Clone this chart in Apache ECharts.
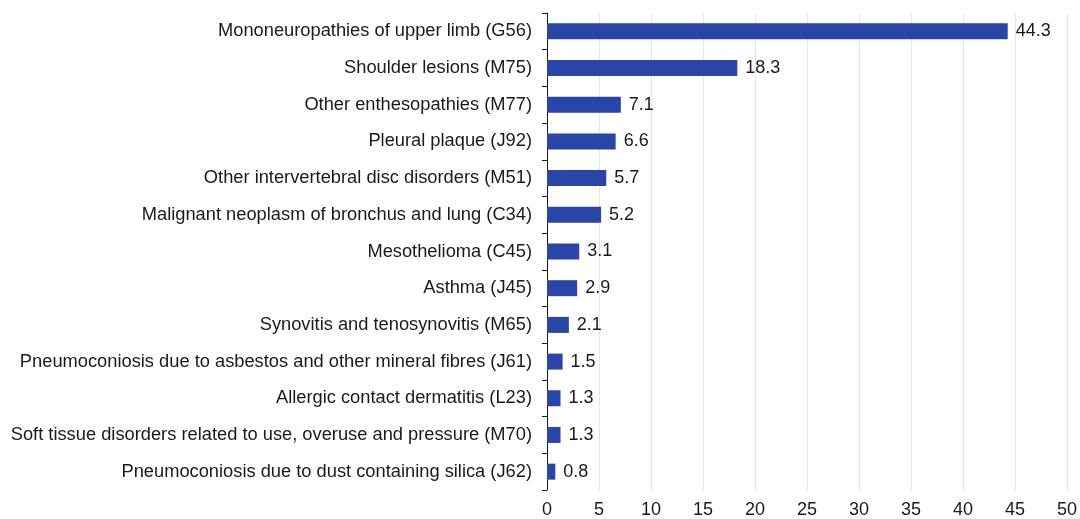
<!DOCTYPE html>
<html><head><meta charset="utf-8">
<script src="https://cdn.jsdelivr.net/npm/echarts@6/dist/echarts.min.js"></script>
<style>html,body{margin:0;padding:0;background:#fff}#c{width:1080px;height:519px}</style>
</head><body><div id="c"></div>
<script>
const categories = [
  "Mononeuropathies of upper limb (G56)",
  "Shoulder lesions (M75)",
  "Other enthesopathies (M77)",
  "Pleural plaque (J92)",
  "Other intervertebral disc disorders (M51)",
  "Malignant neoplasm of bronchus and lung (C34)",
  "Mesothelioma (C45)",
  "Asthma (J45)",
  "Synovitis and tenosynovitis (M65)",
  "Pneumoconiosis due to asbestos and other mineral fibres (J61)",
  "Allergic contact dermatitis (L23)",
  "Soft tissue disorders related to use, overuse and pressure (M70)",
  "Pneumoconiosis due to dust containing silica (J62)"
];
const values = [44.3, 18.3, 7.1, 6.6, 5.7, 5.2, 3.1, 2.9, 2.1, 1.5, 1.3, 1.3, 0.8];
const xTicks = [0, 5, 10, 15, 20, 25, 30, 35, 40, 45, 50];

const FONT = 'Liberation Sans, Arial, sans-serif';
const chart = echarts.init(document.getElementById('c'));
chart.setOption({
  animation: false,
  grid: {left: 547, right: 13, top: 13, bottom: 28, containLabel: false},
  xAxis: {
    type: 'value', min: xTicks[0], max: xTicks[xTicks.length-1], interval: 5,
    axisLine: {show: false}, axisTick: {show: false},
    splitLine: {show: true, lineStyle: {color: '#e6e6e6', width: 1}},
    axisLabel: {color: '#1a1a1a', fontSize: 18, fontFamily: FONT, margin: 11}
  },
  yAxis: {
    type: 'category', inverse: true, data: categories,
    axisLine: {show: true, lineStyle: {color: '#1a1a1a', width: 1}},
    axisTick: {show: true, length: 5, lineStyle: {color: '#1a1a1a'}},
    axisLabel: {color: '#1a1a1a', fontSize: 18.3, fontFamily: FONT, margin: 15}
  },
  series: [{
    type: 'bar', data: values, barWidth: 16,
    itemStyle: {color: '#2a45a8'},
    label: {show: true, position: 'right', distance: 8, color: '#1a1a1a', fontSize: 18,
      fontFamily: FONT, formatter: p => p.value.toFixed(1)}
  }]
});
</script></body></html>
